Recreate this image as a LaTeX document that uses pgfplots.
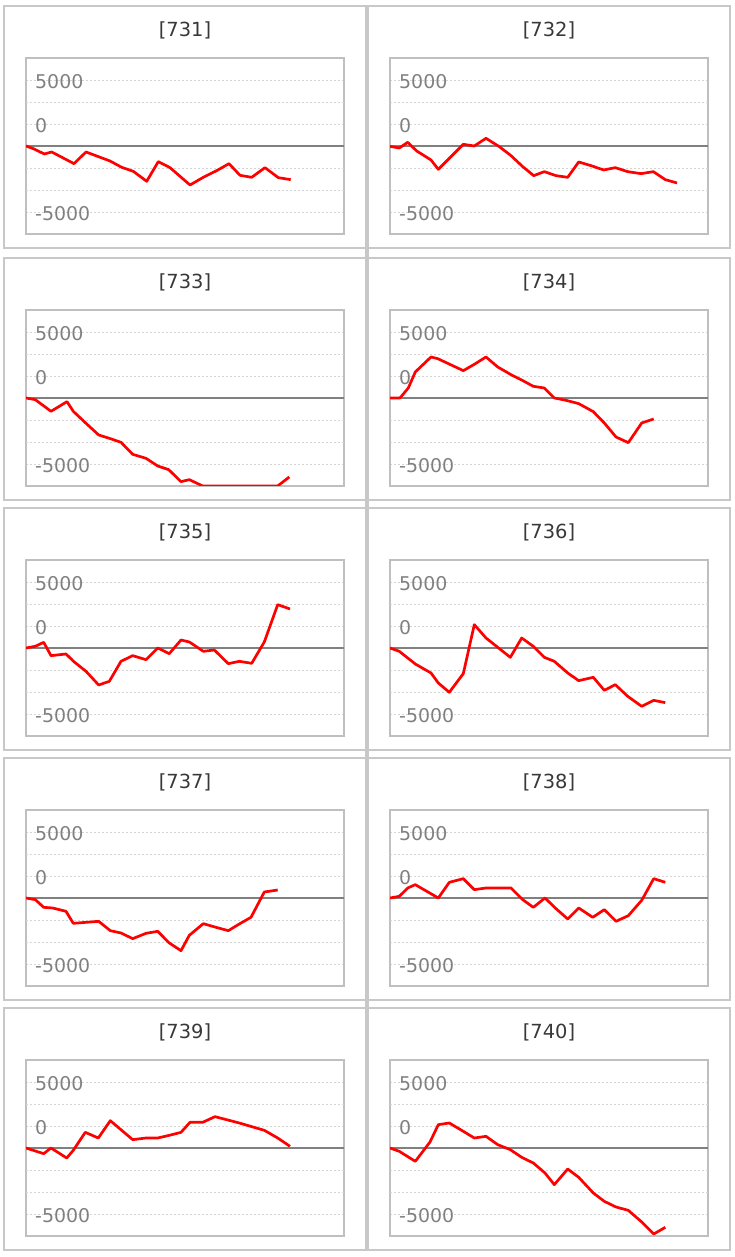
\documentclass[border=0pt]{standalone}
\usepackage{pgfplots}
\pgfplotsset{compat=1.18}
\usepackage{fontspec}
\setmainfont{DejaVu Sans}
\definecolor{boxgray}{HTML}{C8C8C8}
\definecolor{axgray}{HTML}{BFBFBF}
\definecolor{zerogray}{HTML}{808080}
\definecolor{gridgray}{HTML}{D4D4D4}
\definecolor{labgray}{HTML}{808080}
\definecolor{titlegray}{HTML}{383838}
\pgfplotsset{
  panel/.style={
    scale only axis, width=318bp, height=176bp,
    xmin=0, xmax=318, ymin=-10000, ymax=10000,
    axis line style={axgray, line width=1.8bp},
    xtick=\empty,
    ytick={7500,2500,-7500}, yticklabels={5000,0,-5000},
    extra y ticks={5000,-2500,-5000},
    extra y tick labels={},
    extra y tick style={grid=major},
    ymajorgrids,
    major grid style={gridgray, line width=0.8bp, dash pattern=on 2bp off 2bp},
    major tick length=0pt,
    yticklabel style={anchor=west, inner sep=0pt, xshift=9bp, yshift=-1.5bp,
      font=\fontsize{19}{21}\selectfont, text=labgray},
    title style={font=\fontsize{19.5}{21}\selectfont, text=titlegray,
      at={(0.5,1)}, anchor=center, yshift=22bp},
    scaled y ticks=false,
  },
  redline/.style={color=red, line width=2.7bp, line join=round, mark=none},
  zeroline/.style={color=zerogray, line width=1.8bp, mark=none, forget plot},
}
\newcommand\panel[4]{%
  \begin{axis}[panel, at={(#1bp,#2bp)}, anchor=west, title={[#3]}]
    \addplot[zeroline] coordinates {(0,0) (318,0)};
    \addplot[redline] coordinates {#4};
  \end{axis}}
\begin{document}
\begin{tikzpicture}[x=1bp,y=1bp]
\path[use as bounding box] (0,0) rectangle (735,1257);
% panel frames
\foreach \z in {146,398,648,898,1148}{
  \draw[boxgray, line width=2bp] (4,{1257-\z-102}) rectangle (366,{1257-\z+140});
  \draw[boxgray, line width=2bp] (368,{1257-\z-102}) rectangle (730,{1257-\z+140});
}
\draw[boxgray, line width=4bp] (367,6) -- (367,1251);
% row 1
\panel{26}{1111}{731}{(0,0) (7.3,-303) (18.3,-909) (25.7,-682) (48,-2008) (60,-682) (84,-1705) (95.7,-2424) (107.3,-2879) (120.7,-4015) (132.3,-1780) (144,-2462) (164,-4432) (177.3,-3561) (190.7,-2803) (203,-2008) (214,-3333) (225.7,-3561) (239,-2462) (252.3,-3599) (264.7,-3826)}
\panel{390}{1111}{732}{(0,-50) (9.3,-227) (17.7,417) (26.7,-568) (41,-1591) (48.3,-2652) (61,-1212) (73.3,189) (84.3,0) (96,871) (109.3,-76) (121,-1099) (132.7,-2349) (143.7,-3371) (154.3,-2917) (166,-3371) (177.7,-3561) (188.7,-1818) (201,-2235) (213.7,-2727) (225.3,-2462) (237.7,-2917) (251,-3144) (263.3,-2917) (275.3,-3826) (287,-4205)}
% row 2
\panel{26}{859}{733}{(0,0) (9.3,-189) (25,-1515) (41,-417) (47.3,-1515) (60,-2879) (72.7,-4205) (83.3,-4583) (95,-5038) (106.7,-6402) (120,-6856) (131.7,-7728) (142.7,-8144) (155,-9508) (163.3,-9281) (176.7,-10000) (189,-10000) (201,-10000) (214,-10000) (226,-10000) (239,-10000) (251.7,-10000) (263.3,-8977)}
\panel{390}{859}{734}{(0,0) (10,0) (18.3,1136) (25.3,2955) (41,4659) (47.7,4470) (73.3,3106) (84.3,3826) (96,4659) (107.7,3523) (121,2652) (131,2083) (143.3,1326) (154.3,1136) (164.3,0) (176,-265) (188.7,-644) (203.3,-1553) (214.3,-2841) (226,-4432) (238.3,-5076) (251.7,-2841) (263.7,-2386)}
% row 3
\panel{26}{609}{735}{(0,0) (9.3,189) (17.7,644) (25,-871) (40,-682) (48.3,-1591) (60,-2652) (72.7,-4205) (83.3,-3788) (95,-1515) (106.7,-871) (120,-1326) (131.7,0) (143.3,-644) (155,909) (163.3,682) (177.3,-379) (188.3,-227) (202.3,-1780) (213.3,-1515) (225.7,-1742) (238.3,682) (251.7,4924) (264,4432)}
\panel{390}{609}{736}{(0,0) (9.3,-379) (25.3,-1818) (41,-2841) (48.3,-3977) (59.3,-5038) (73.3,-2917) (84.3,2652) (96,1136) (107.7,76) (120.3,-1061) (131.7,1136) (143.3,189) (154.3,-1061) (164.3,-1515) (177.7,-2841) (188.7,-3712) (203.3,-3333) (214.3,-4811) (225.3,-4167) (237.7,-5492) (251.7,-6629) (263.7,-5947) (275.3,-6212)}
% row 4
\panel{26}{359}{737}{(0,0) (9.3,-189) (17.7,-1061) (26.7,-1136) (40,-1515) (47.3,-2879) (60,-2765) (72.7,-2652) (84.3,-3712) (95,-3977) (106.7,-4621) (120,-4015) (131.7,-3788) (143.3,-5114) (155,-5985) (163.3,-4242) (177.3,-2917) (190,-3333) (202.3,-3712) (213.3,-2955) (225,-2197) (238.3,682) (251.7,909)}
\panel{390}{359}{738}{(0,0) (9.3,189) (17.7,1136) (25.3,1515) (48.3,0) (59.3,1780) (73.3,2197) (84.3,947) (96,1136) (121,1136) (132.7,-189) (143.3,-1061) (155,0) (166,-1212) (177.7,-2386) (188.7,-1136) (202.7,-2197) (214.3,-1326) (226,-2652) (238.3,-2008) (251.7,-265) (263.7,2197) (275.3,1780)}
% row 5
\panel{26}{109}{739}{(0,0) (17.7,-644) (25,0) (40.7,-1136) (47.3,-265) (59.3,1780) (72.3,1136) (84.3,3106) (106.7,947) (120,1136) (131.7,1136) (143.3,1439) (155,1780) (164,2917) (176.7,2917) (189,3561) (213.3,2841) (238.3,2008) (251.7,1136) (264,189)}
\panel{390}{109}{740}{(0,0) (9.3,-379) (25.3,-1515) (40,682) (48.3,2652) (59.3,2841) (73.3,1894) (84.3,1136) (96,1326) (107.7,379) (120.3,-189) (131.7,-1061) (143.3,-1705) (155,-2841) (164.3,-4167) (177.7,-2386) (188.7,-3333) (203.3,-5114) (214.3,-6061) (226,-6705) (238.3,-7084) (251.7,-8409) (263.7,-9773) (275.3,-9015)}
\end{tikzpicture}
\end{document}
